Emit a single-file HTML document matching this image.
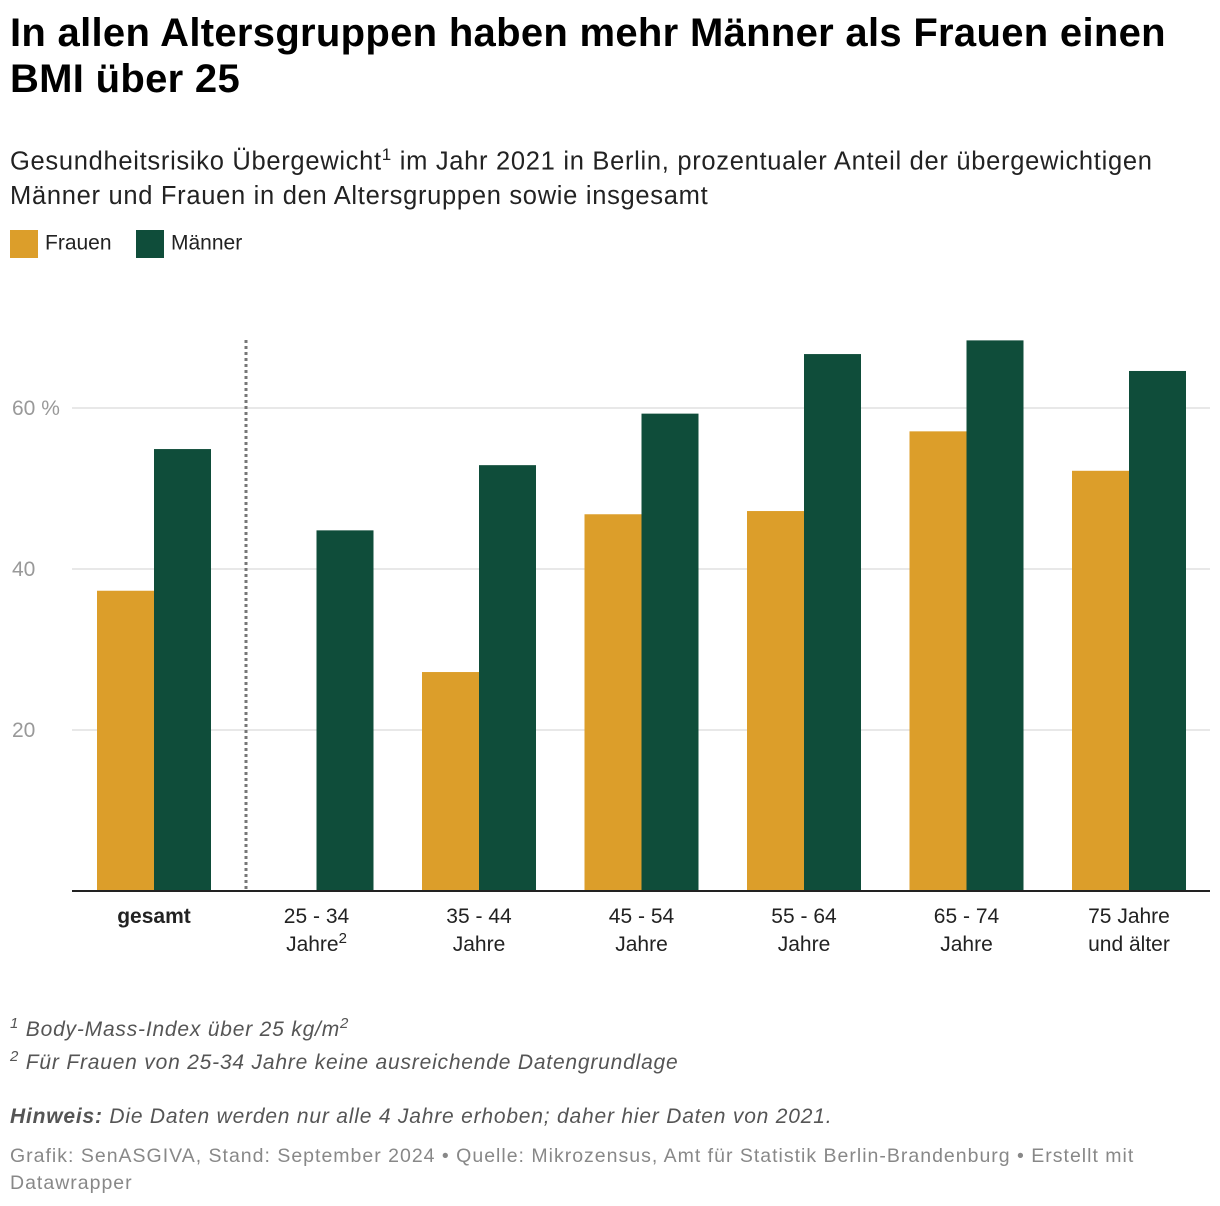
<!DOCTYPE html>
<html><head><meta charset="utf-8"><style>
body{margin:0;background:#fff;width:1220px;height:1206px;overflow:hidden;font-family:"Liberation Sans",sans-serif;color:#000;position:relative}
.t{position:absolute;left:10px;top:10px;font-size:40px;font-weight:bold;line-height:46px;width:1210px;white-space:nowrap;letter-spacing:0.3px}
.s{position:absolute;left:10px;top:138px;font-size:25.5px;line-height:34px;color:#222;width:1210px;white-space:nowrap;letter-spacing:0.7px}
.lg{position:absolute;top:230px;font-size:21px;color:#222}
.sw{display:inline-block;width:28px;height:28px;vertical-align:middle;margin-right:7px}
.n{position:absolute;left:10px;font-size:21px;font-style:italic;color:#555;letter-spacing:0.8px;white-space:nowrap}
.f{position:absolute;left:10px;top:1143px;font-size:19.5px;color:#888;line-height:27px;width:1200px;letter-spacing:1px;white-space:nowrap}
</style></head><body>
<div class="t">In allen Altersgruppen haben mehr Männer als Frauen einen<br>BMI über 25</div>
<div class="s">Gesundheitsrisiko Übergewicht<sup style="font-size:17px">1</sup> im Jahr 2021 in Berlin, prozentualer Anteil der übergewichtigen<br>Männer und Frauen in den Altersgruppen sowie insgesamt</div>
<div class="lg" style="left:10px"><span class="sw" style="background:#dc9e2a"></span>Frauen</div>
<div class="lg" style="left:136px"><span class="sw" style="background:#0f4d3a"></span>Männer</div>
<svg id="c" width="1220" height="1000" style="position:absolute;left:0;top:0"></svg>
<div class="n" style="top:1015px"><sup style="font-size:15px">1</sup> Body-Mass-Index über 25 kg/m<sup style="font-size:15px">2</sup></div>
<div class="n" style="top:1048px"><sup style="font-size:15px">2</sup> Für Frauen von 25-34 Jahre keine ausreichende Datengrundlage</div>
<div class="n" style="top:1105px"><b>Hinweis:</b> Die Daten werden nur alle 4 Jahre erhoben; daher hier Daten von 2021.</div>
<div class="f">Grafik: SenASGIVA, Stand: September 2024 • Quelle: Mikrozensus, Amt für Statistik Berlin-Brandenburg • Erstellt mit<br>Datawrapper</div>
<script>
const categories=[["gesamt"],["25 - 34","Jahre²"],["35 - 44","Jahre"],["45 - 54","Jahre"],["55 - 64","Jahre"],["65 - 74","Jahre"],["75 Jahre","und älter"]];
const frauen=[37.3,null,27.2,46.8,47.2,57.1,52.2];
const maenner=[54.9,44.8,52.9,59.3,66.7,68.4,64.6];
const ticks=[20,40,60];
const svg=document.getElementById('c');const NS='http://www.w3.org/2000/svg';
const y=v=>891-v*8.05;const cx=i=>154+i*162.5;const bw=57;
function mk(t,a){const e=document.createElementNS(NS,t);for(const k in a)e.setAttribute(k,a[k]);svg.appendChild(e);return e;}
ticks.forEach(t=>{
 const l=mk('line',{x1:72,x2:1210,y1:y(t),y2:y(t),stroke:'#e0e0e0','stroke-width':1.5});
 
 
 const tx=mk('text',{x:12,y:y(t)+7,'font-size':21,fill:'#999'});tx.textContent=t+(t===60?' %':'');
 
 
});
const sep=mk('line',{x1:246,x2:246,y1:340,y2:891,stroke:'#777','stroke-width':3,'stroke-dasharray':'3,3'});


categories.forEach((c,i)=>{
 if(frauen[i]!=null){const r=mk('rect',{x:cx(i)-bw,y:y(frauen[i]),width:bw,height:891-y(frauen[i]),fill:'#dc9e2a'});
 
 }
 const m=mk('rect',{x:cx(i),y:y(maenner[i]),width:bw,height:891-y(maenner[i]),fill:'#0f4d3a'});
 
 
 c.forEach((s,j)=>{const tx=mk('text',{x:cx(i),y:923+j*28,'font-size':21,'text-anchor':'middle',fill:'#222','font-weight':i===0?'bold':'normal'});
  if(s.endsWith('²')){tx.textContent=s.slice(0,-1);const ts=document.createElementNS(NS,'tspan');ts.setAttribute('dy',-8);ts.setAttribute('font-size',15);ts.textContent='2';tx.appendChild(ts);}else tx.textContent=s;
  
  });
});
const b=mk('line',{x1:72,x2:1210,y1:891,y2:891,stroke:'#222','stroke-width':2});


</script>
</body></html>
